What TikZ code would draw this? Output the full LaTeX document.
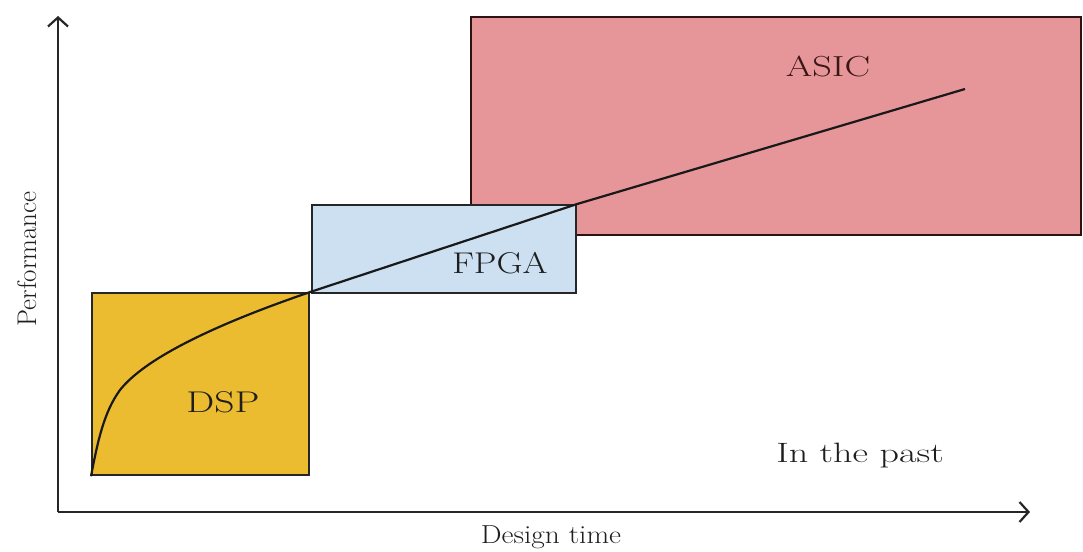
\documentclass[tikz,border=0pt]{standalone}
\usetikzlibrary{arrows.meta}
\definecolor{dspc}{HTML}{ECBC30}
\definecolor{fpgac}{HTML}{CCE0F2}
\definecolor{asicc}{HTML}{E69698}
\definecolor{edgec}{HTML}{262626}
\definecolor{txtc}{HTML}{1E1E1E}
\definecolor{asictxt}{HTML}{3A1616}
\tikzset{
  blockbox/.style={draw=edgec, line width=2.2pt, anchor=north west, inner sep=0pt},
  lbl/.style={text=txtc, inner sep=0pt, anchor=base, font=\fontsize{30}{30}\selectfont},
  axis/.style={draw=edgec, line width=2.2pt, -{Straight Barb[length=9pt,width=20pt,line width=2.2pt]}},
}
\begin{document}
\begin{tikzpicture}[x=1pt,y=-1pt]
\useasboundingbox (0,0) rectangle (1083,551);
\node[blockbox, fill=asicc, draw=asictxt!80!black, minimum width=610pt, minimum height=218pt] (asic) at (470,16) {};
\node[blockbox, fill=fpgac, minimum width=264pt, minimum height=88pt] (fpga) at (311,204) {};
\node[blockbox, fill=dspc, minimum width=217pt, minimum height=182pt] (dsp) at (91,292) {};
\coordinate (o) at (58,512);
\coordinate (ytip) at (58,16);
\coordinate (xtip) at (1030,512);
\coordinate (curveend) at (965,89);
\draw[axis] (o) -- (ytip);
\draw[axis] (o) -- (xtip);
\draw[line width=2.2pt, draw=black!90, line join=round] (dsp.south west)
  .. controls (98,440) and (104,412) .. (120,390)
  .. controls (150,352) and (240,316) .. (dsp.north east)
  -- (fpga.north east) -- (curveend);
\node[lbl, text=asictxt, font=\fontsize{29}{29}\selectfont] (asiclbl) at (828,77) {\scalebox{1.32}[1]{ASIC}};
\node[lbl] (fpgalbl) at (500,273) {\scalebox{1.2}[1]{FPGA}};
\node[lbl] (dsplbl) at (223,412) {\scalebox{1.32}[1]{DSP}};
\node[lbl, font=\fontsize{28}{28}\selectfont] (past) at (860,462) {\scalebox{1.36}[1]{In the past}};
\node[lbl, font=\fontsize{26}{26}\selectfont] (xlbl) at (551,543) {\scalebox{1.13}[1]{Design time}};
\node[lbl, font=\fontsize{27}{27}\selectfont, rotate=90] (ylbl) at (36,259) {Performance};
\end{tikzpicture}
\end{document}
